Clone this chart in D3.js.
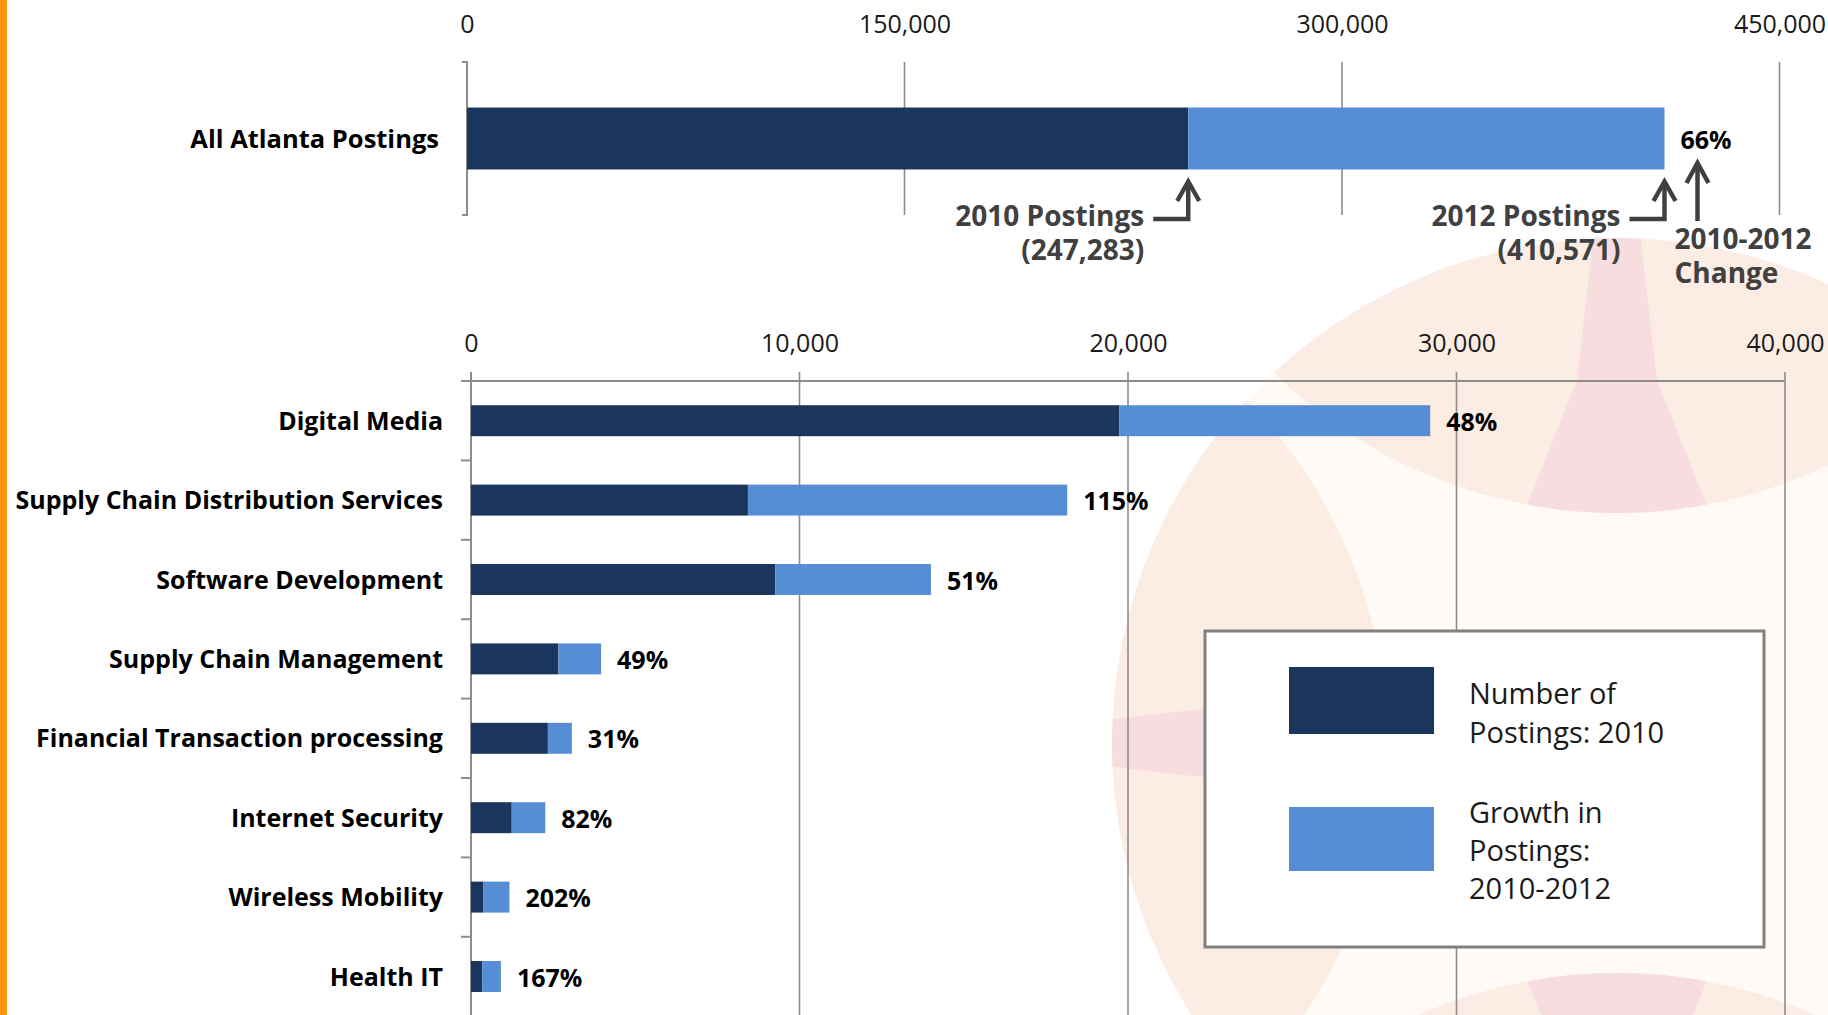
<!DOCTYPE html>
<html><head><meta charset="utf-8">
<script src="https://cdn.jsdelivr.net/npm/d3@7"></script>
<style>
html,body{margin:0;padding:0;background:#fff;overflow:hidden;}
svg{display:block;font-family:"Open Sans","Noto Sans",sans-serif;}
</style></head><body>
<svg id="chart" width="1828" height="1015"></svg>
<script>
// ---------- data ----------
const topCategory = ["All Atlanta Postings"];
const topPostings2010 = [247283];
const topPostings2012 = [410571];
const topChangeLabels = ["66%"];
const topTicks = [0, 150000, 300000, 450000];
const annotationTitles = ["2010 Postings", "2012 Postings"];
const changeTitle = ["2010-2012", "Change"];

const categories = ["Digital Media", "Supply Chain Distribution Services", "Software Development",
  "Supply Chain Management", "Financial Transaction processing", "Internet Security",
  "Wireless Mobility", "Health IT"];
const postings2010 = [19730, 8430, 9260, 2660, 2340, 1240, 380, 340];
const postings2012 = [29200, 18150, 14000, 3960, 3070, 2260, 1170, 910];
const growthLabels = ["48%", "115%", "51%", "49%", "31%", "82%", "202%", "167%"];
const bottomTicks = [0, 10000, 20000, 30000, 40000];

const seriesNames = [["Number of", "Postings: 2010"], ["Growth in", "Postings:", "2010-2012"]];

// ---------- style ----------
const DARK = "#1B365D", LIGHT = "#558ED5", GRID = "#8C8C8C", ANNO = "#404040";
const fmt = d3.format(",");

const svg = d3.select("#chart");
const defs = svg.append("defs");

// ---------- background decoration ----------
const bc = {x: 1617, y: 743, r: 505};
defs.append("clipPath").attr("id", "ball").append("circle")
  .attr("cx", bc.x).attr("cy", bc.y).attr("r", bc.r);
const logo = svg.append("g").attr("clip-path", "url(#ball)");
logo.append("circle").attr("cx", bc.x).attr("cy", bc.y).attr("r", bc.r).attr("fill", "#FFFAF6");
const capDist = 720, capR = 490;
const wedgePts = [[-22, -560], [-24, -503], [-40, -363], [-96, -222], [96, -222], [40, -363], [24, -503], [22, -560]];
const wedgeLine = d3.line().curve(d3.curveLinearClosed);
[0, 90, 180, 270].forEach((a, i) => {
  const rad = (a - 90) * Math.PI / 180;
  const ccx = bc.x + capDist * Math.cos(rad), ccy = bc.y + capDist * Math.sin(rad);
  defs.append("clipPath").attr("id", "cap" + i).append("circle")
    .attr("cx", ccx).attr("cy", ccy).attr("r", capR);
  logo.append("circle").attr("cx", ccx).attr("cy", ccy).attr("r", capR).attr("fill", "#FBEDE3");
  logo.append("g").attr("clip-path", "url(#cap" + i + ")")
    .append("path").attr("d", wedgeLine(wedgePts))
    .attr("transform", `translate(${bc.x},${bc.y}) rotate(${a})`)
    .attr("fill", "#F7DDE0");
});

// orange strip on the left
svg.append("rect").attr("x", 0).attr("y", 0).attr("width", 7).attr("height", 1015).attr("fill", "#FD9111");

// ---------- top chart ----------
const xTop = d3.scaleLinear().domain([0, 450000]).range([467, 1779.5]);
const yTop = d3.scaleBand().domain(topCategory).range([62, 215]).paddingInner(0.595).paddingOuter(0.2975);
const gTop = svg.append("g");

gTop.selectAll("line.grid").data(topTicks.slice(1)).join("line")
  .attr("x1", d => xTop(d)).attr("x2", d => xTop(d))
  .attr("y1", yTop.range()[0]).attr("y2", yTop.range()[1])
  .attr("stroke", GRID).attr("stroke-width", 1.6);
gTop.append("path")
  .attr("d", `M${xTop(0) - 5},${yTop.range()[0]}H${xTop(0)}V${yTop.range()[1]}H${xTop(0) - 5}`)
  .attr("fill", "none").attr("stroke", GRID).attr("stroke-width", 2);

const axTop = gTop.append("g").attr("transform", "translate(0,33)")
  .call(d3.axisTop(xTop).tickValues(topTicks).tickFormat(fmt).tickSize(0).tickPadding(0));
axTop.select(".domain").remove();
axTop.attr("font-family", null).attr("font-size", null);
axTop.selectAll("text").attr("font-size", 25).attr("fill", "#1a1a1a");

topCategory.forEach((c, i) => {
  const yc = yTop(c), bw = yTop.bandwidth();
  gTop.append("rect").attr("x", xTop(0)).attr("y", yc).attr("width", xTop(topPostings2010[i]) - xTop(0))
    .attr("height", bw).attr("fill", DARK);
  gTop.append("rect").attr("x", xTop(topPostings2010[i])).attr("y", yc)
    .attr("width", xTop(topPostings2012[i]) - xTop(topPostings2010[i]))
    .attr("height", bw).attr("fill", LIGHT);
  gTop.append("text").attr("x", 439).attr("y", yc + bw / 2 + 9).attr("text-anchor", "end")
    .attr("font-size", 25.5).attr("font-weight", 700).attr("fill", "#000").text(c);
  gTop.append("text").attr("x", xTop(topPostings2012[i]) + 16).attr("y", yc + bw / 2 + 10)
    .attr("font-size", 25).attr("font-weight", 700).attr("fill", "#000").text(topChangeLabels[i]);

  // annotations with arrows
  [topPostings2010[i], topPostings2012[i]].forEach((v, k) => {
    const xv = xTop(v);
    gTop.append("path").attr("d", `M${xv - 35},219H${xv}V183`)
      .attr("fill", "none").attr("stroke", ANNO).attr("stroke-width", 4.5);
    gTop.append("path").attr("d", `M${xv - 11},201L${xv},181.5L${xv + 11},201`)
      .attr("fill", "none").attr("stroke", ANNO).attr("stroke-width", 4.5);
    gTop.append("text").attr("text-anchor", "end").attr("font-size", 28)
      .attr("font-weight", 700).attr("fill", ANNO)
      .attr("x", xv - 44).attr("y", 226).text(annotationTitles[k]);
    gTop.append("text").attr("text-anchor", "end").attr("font-size", 28)
      .attr("font-weight", 700).attr("fill", ANNO)
      .attr("x", xv - 44).attr("y", 260).text("(" + fmt(v) + ")");
  });
  const xa = xTop(topPostings2012[i]) + 33;
  gTop.append("path").attr("d", `M${xa},221V165`)
    .attr("fill", "none").attr("stroke", ANNO).attr("stroke-width", 4.5);
  gTop.append("path").attr("d", `M${xa - 11},183L${xa},163L${xa + 11},183`)
    .attr("fill", "none").attr("stroke", ANNO).attr("stroke-width", 4.5);
  changeTitle.forEach((line, j) => {
    gTop.append("text").attr("font-size", 28).attr("font-weight", 700).attr("fill", ANNO)
      .attr("x", xa - 23).attr("y", 249 + j * 34).text(line);
  });
});

// ---------- bottom chart ----------
const x = d3.scaleLinear().domain([0, 40000]).range([471, 1785]);
const y = d3.scaleBand().domain(categories).range([381, 1016.2]).paddingInner(0.61).paddingOuter(0.305);
const g = svg.append("g");

g.selectAll("line.grid").data(bottomTicks.slice(1)).join("line")
  .attr("x1", d => x(d)).attr("x2", d => x(d)).attr("y1", 372).attr("y2", 1015)
  .attr("stroke", GRID).attr("stroke-width", 1.6);
g.append("line").attr("x1", x(0) - 10).attr("x2", x(40000)).attr("y1", 381).attr("y2", 381)
  .attr("stroke", GRID).attr("stroke-width", 1.8);
g.append("line").attr("x1", x(0)).attr("x2", x(0)).attr("y1", 372).attr("y2", 1015)
  .attr("stroke", GRID).attr("stroke-width", 2);
g.selectAll("line.cattick").data(d3.range(1, categories.length)).join("line")
  .attr("x1", x(0) - 10).attr("x2", x(0))
  .attr("y1", i => y.range()[0] + i * y.step()).attr("y2", i => y.range()[0] + i * y.step())
  .attr("stroke", GRID).attr("stroke-width", 2);

const ax = g.append("g").attr("transform", "translate(0,352)")
  .call(d3.axisTop(x).tickValues(bottomTicks).tickFormat(fmt).tickSize(0).tickPadding(0));
ax.select(".domain").remove();
ax.attr("font-family", null).attr("font-size", null);
ax.selectAll("text").attr("font-size", 25).attr("fill", "#1a1a1a");

categories.forEach((c, i) => {
  const yc = y(c), bw = y.bandwidth();
  g.append("rect").attr("x", x(0)).attr("y", yc).attr("width", x(postings2010[i]) - x(0))
    .attr("height", bw).attr("fill", DARK);
  g.append("rect").attr("x", x(postings2010[i])).attr("y", yc)
    .attr("width", x(postings2012[i]) - x(postings2010[i])).attr("height", bw).attr("fill", LIGHT);
  g.append("text").attr("x", 443).attr("y", yc + bw / 2 + 9).attr("text-anchor", "end")
    .attr("font-size", 25).attr("font-weight", 700).attr("fill", "#000").text(c);
  g.append("text").attr("x", x(postings2012[i]) + 16).attr("y", yc + bw / 2 + 10)
    .attr("font-size", 25).attr("font-weight", 700).attr("fill", "#000").text(growthLabels[i]);
});

// ---------- legend ----------
const lg = svg.append("g");
lg.append("rect").attr("x", 1205).attr("y", 631).attr("width", 559).attr("height", 316)
  .attr("fill", "#fff").attr("stroke", "#808080").attr("stroke-width", 3);
const sw = [{y: 667, h: 67, c: DARK, ty: [704, 743]}, {y: 807, h: 64, c: LIGHT, ty: [822.5, 861, 899]}];
sw.forEach((s, i) => {
  lg.append("rect").attr("x", 1289).attr("y", s.y).attr("width", 145).attr("height", s.h).attr("fill", s.c);
  seriesNames[i].forEach((line, j) => lg.append("text").attr("font-size", 29).attr("fill", "#1a1a1a")
    .attr("x", 1469).attr("y", s.ty[j]).text(line));
});
</script>
</body></html>
